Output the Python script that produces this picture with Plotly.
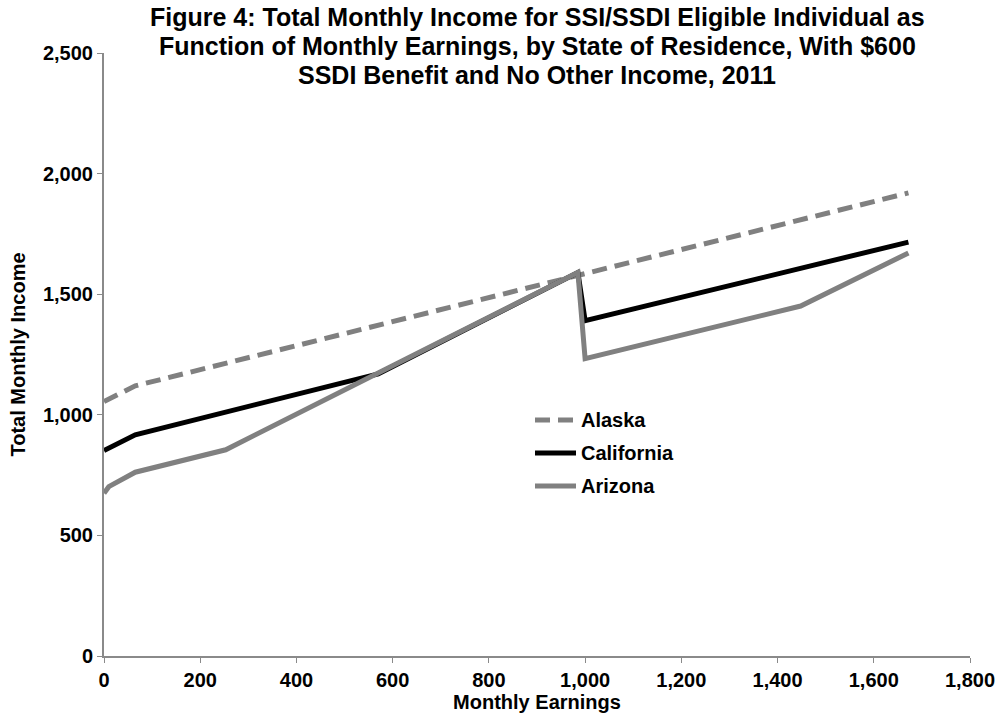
import plotly.graph_objects as go

# Monthly earnings (x) and total monthly income (y) by state
alaska_earnings = [0, 65, 1672]
alaska_income = [1055, 1120, 1920]

california_earnings = [0, 65, 570, 985, 1000, 1672]
california_income = [852, 917, 1170, 1590, 1390, 1716]

arizona_earnings = [0, 10, 65, 253, 985, 1000, 1448, 1672]
arizona_income = [675, 702, 762, 855, 1590, 1233, 1451, 1671]

title_lines = [
    "Figure 4: Total Monthly Income for SSI/SSDI Eligible Individual as",
    "Function of Monthly Earnings, by State of Residence, With $600",
    "SSDI Benefit and No Other Income, 2011",
]

FONT = "Liberation Sans, Arial, sans-serif"
GRAY = "#808080"
AXIS_GRAY = "#8a8a8a"

series = [
    ("Alaska", alaska_earnings, alaska_income, dict(color=GRAY, width=5, dash="15px,8px")),
    ("California", california_earnings, california_income, dict(color="#000000", width=5)),
    ("Arizona", arizona_earnings, arizona_income, dict(color=GRAY, width=5)),
]

fig = go.Figure()
for name, xs, ys, line in series:
    fig.add_trace(go.Scatter(x=xs, y=ys, mode="lines", name=name, line=line, showlegend=False))

W, H = 1000, 721
L, R, T, B = 104, 30, 53, 65
PW, PH = W - L - R, H - T - B


def px_x(x):
    return (x - L) / PW


def px_y(y):
    return (H - B - y) / PH


annotations = []
for txt, py in zip(title_lines, [17, 46, 75]):
    annotations.append(dict(
        text=f"<b>{txt}</b>", xref="paper", yref="paper",
        x=0.5, y=px_y(py), xanchor="center", yanchor="middle",
        showarrow=False, font=dict(family=FONT, size=25, color="#000000"),
    ))

# Hand-drawn legend: sample line plus bold label for each series
shapes = []
for i, (name, _, _, line) in enumerate(series):
    ly = 420 + 33 * i
    shapes.append(dict(
        type="line", xref="paper", yref="paper",
        x0=px_x(535), x1=px_x(576), y0=px_y(ly), y1=px_y(ly),
        line=line,
    ))
    annotations.append(dict(
        text=f"<b>{name}</b>", xref="paper", yref="paper",
        x=px_x(579), y=px_y(ly), xanchor="left", yanchor="middle",
        showarrow=False, font=dict(family=FONT, size=20, color="#000000"),
    ))

fig.update_layout(
    width=W, height=H,
    margin=dict(l=L, r=R, t=T, b=B, pad=0),
    paper_bgcolor="white", plot_bgcolor="white",
    font=dict(family=FONT, size=20, color="#000000"),
    annotations=annotations,
    shapes=shapes,
    showlegend=False,
    hovermode=False,
)

fig.update_xaxes(
    range=[0, 1800], dtick=200, tickformat=",d", automargin=False,
    showgrid=False, zeroline=False,
    showline=True, linecolor=AXIS_GRAY, linewidth=2,
    ticks="outside", ticklen=5, tickcolor=AXIS_GRAY, tickwidth=1,
    tickfont=dict(family=FONT, size=20, color="#000000"),
    title=dict(text="<b>Monthly Earnings</b>", font=dict(family=FONT, size=20), standoff=2),
    tickprefix="<b>", ticksuffix="</b>",
)
fig.update_yaxes(
    range=[0, 2500], dtick=500, tickformat=",d", automargin=False,
    showgrid=False, zeroline=False,
    showline=True, linecolor=AXIS_GRAY, linewidth=2,
    ticks="outside", ticklen=5, tickcolor=AXIS_GRAY, tickwidth=1,
    tickfont=dict(family=FONT, size=20, color="#000000"),
    title=dict(text="<b>Total Monthly Income</b>", font=dict(family=FONT, size=20), standoff=12),
    tickprefix="<b>", ticksuffix="</b>",
)

fig.write_html("out.html")
